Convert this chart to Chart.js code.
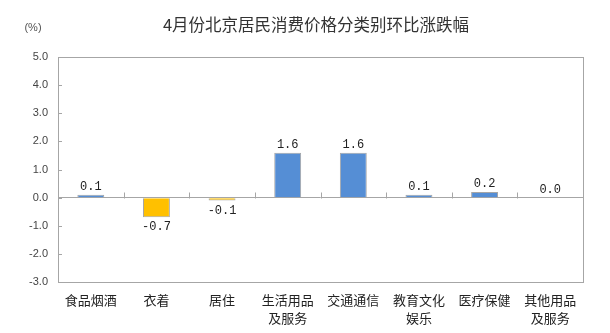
<!DOCTYPE html>
<html>
<head>
<meta charset="utf-8">
<script src="https://cdn.jsdelivr.net/npm/chart.js@4/dist/chart.umd.min.js"></script>
<style>
  html, body { margin: 0; padding: 0; background: #fff; }
  #wrap { width: 610px; height: 333px; }
</style>
</head>
<body>
<div id="wrap"><canvas id="cpiChart" width="610" height="333"></canvas></div>
<script>
// 4月份北京居民消费价格分类别环比涨跌幅
const titleText = '4月份北京居民消费价格分类别环比涨跌幅';
const unitText = '(%)';
const categories = [
  '食品烟酒', '衣着', '居住', ['生活用品', '及服务'],
  '交通通信', ['教育文化', '娱乐'], '医疗保健', ['其他用品', '及服务']
];
const changes = [0.1, -0.7, -0.1, 1.6, 1.6, 0.1, 0.2, 0.0];
const yMin = -3;
const yMax = 5;

const axisGray = '#a6a6a6';

// title, unit, box, small inner ticks and value labels
const decorations = {
  id: 'decorations',
  afterDraw(chart) {
    const ctx = chart.ctx;
    const area = chart.chartArea;
    const x = chart.scales.x;
    const y = chart.scales.y;
    ctx.save();

    // frame
    ctx.strokeStyle = axisGray;
    ctx.lineWidth = 1;
    ctx.strokeRect(area.left + 0.5, area.top + 0.5, area.right - area.left, area.bottom - area.top);

    // small ticks on the left edge pointing inward
    y.ticks.forEach(t => {
      const py = Math.round(y.getPixelForValue(t.value)) + 0.5;
      ctx.beginPath();
      ctx.moveTo(area.left, py);
      ctx.lineTo(area.left + 4, py);
      ctx.stroke();
    });

    // category separators above the zero line
    const zeroY = Math.round(y.getPixelForValue(0)) + 0.5;
    for (let i = 1; i < categories.length; i++) {
      const px = Math.round((x.getPixelForValue(i - 1) + x.getPixelForValue(i)) / 2) + 0.5;
      ctx.beginPath();
      ctx.moveTo(px, zeroY);
      ctx.lineTo(px, zeroY - 6);
      ctx.stroke();
    }

    // value labels
    const meta = chart.getDatasetMeta(0);
    ctx.fillStyle = '#222';
    ctx.font = '12px "Liberation Mono", "DejaVu Sans Mono", monospace';
    ctx.textAlign = 'center';
    meta.data.forEach((bar, i) => {
      const v = changes[i];
      if (v < 0) {
        ctx.textBaseline = 'top';
        ctx.fillText(v.toFixed(1), bar.x, bar.y + 4);
      } else {
        ctx.textBaseline = 'bottom';
        ctx.fillText(v.toFixed(1), bar.x, bar.y - 2);
      }
    });

    // title and unit
    ctx.fillStyle = '#333';
    ctx.font = '16.5px "Noto Sans CJK SC", sans-serif';
    ctx.textBaseline = 'middle';
    ctx.textAlign = 'center';
    ctx.fillText(titleText, 316, 25);
    ctx.font = '11px "Liberation Sans", Arial, sans-serif';
    ctx.fillStyle = '#555';
    ctx.fillText(unitText, 33, 28);

    ctx.restore();
  }
};

const chart = new Chart(document.getElementById('cpiChart'), {
  type: 'bar',
  data: {
    labels: categories,
    datasets: [{
      data: changes,
      backgroundColor: changes.map(v => v < 0 ? '#ffc000' : '#558ed5'),
      borderColor: axisGray,
      borderWidth: changes.map(v => v === 0 ? 0 : 1),
      barPercentage: 0.41,
      categoryPercentage: 1
    }]
  },
  options: {
    responsive: false,
    animation: false,
    layout: {
      padding: { left: 0, right: 27, top: 57, bottom: 0 }
    },
    plugins: {
      legend: { display: false },
      tooltip: { enabled: false },
      title: { display: false }
    },
    scales: {
      x: {
        grid: { display: false, drawTicks: false },
        border: { display: false },
        ticks: {
          color: '#222',
          padding: 9,
          maxRotation: 0,
          autoSkip: false,
          font: { family: '"Noto Sans CJK SC", sans-serif', size: 13, lineHeight: 1.4 }
        },
        afterFit: s => { s.height = 51; }
      },
      y: {
        min: yMin,
        max: yMax,
        grid: {
          drawTicks: false,
          color: c => c.tick && c.tick.value === 0 ? axisGray : 'transparent'
        },
        border: { display: false },
        ticks: {
          stepSize: 1,
          padding: 10,
          color: '#444',
          font: { family: '"Liberation Sans", Arial, sans-serif', size: 11 },
          callback: v => v.toFixed(1)
        },
        afterFit: s => { s.width = 58; }
      }
    }
  },
  plugins: [decorations]
});
</script>
</body>
</html>
